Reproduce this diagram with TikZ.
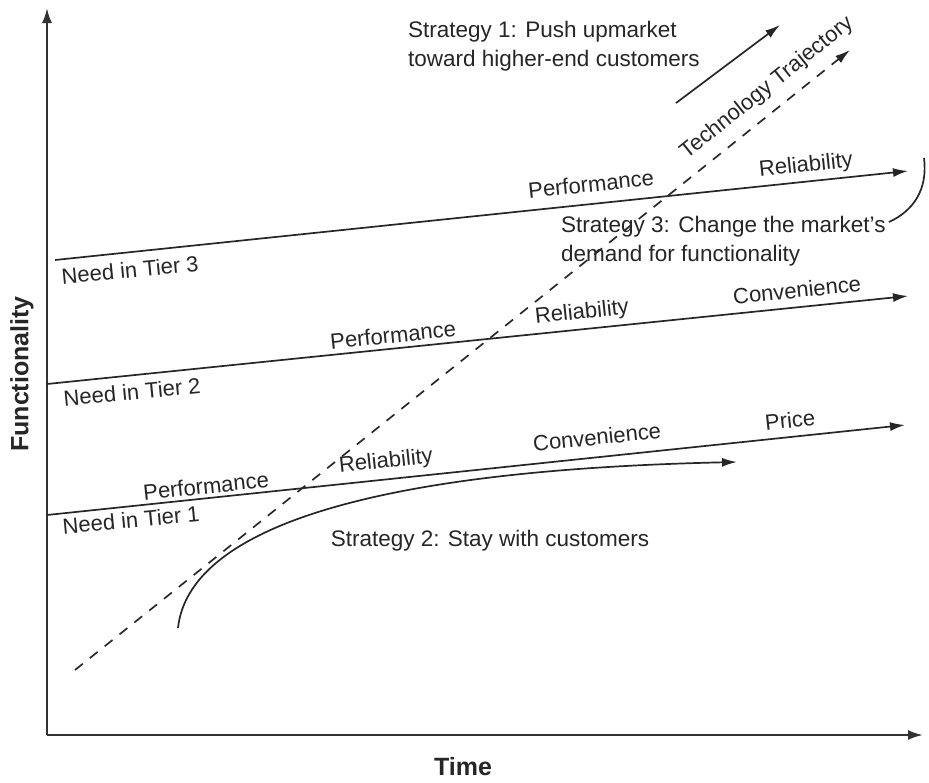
\documentclass[tikz,border=0pt]{standalone}
\usepackage{fontspec}
\setmainfont{Liberation Sans}
\usetikzlibrary{arrows.meta}
\begin{document}
\begin{tikzpicture}[x=1pt,y=-1pt,
  lbl/.style={inner sep=0pt,font=\fontsize{22}{28}\selectfont,text=black!85},
  slbl/.style={inner sep=0pt,font=\fontsize{22.5}{28.5}\selectfont,text=black!85},
  axlbl/.style={inner sep=0pt,font=\fontsize{25}{30}\selectfont\bfseries,text=black!85},
  tierline/.style={line width=1.7pt,draw=black!85,-{Latex[length=15pt,width=9pt]}},
  axis/.style={line width=2.2pt,draw=black!80,-{Latex[length=15pt,width=10pt]}},
  plain/.style={line width=1.7pt,draw=black!85},
  traj/.style={line width=1.7pt,draw=black!85,dash pattern=on 10pt off 9pt,-{Latex[length=15pt,width=9pt]}}]
\useasboundingbox (0,0) rectangle (929,782);
% axes
\coordinate (o) at (47,735);
\coordinate (ytop) at (47,8);
\coordinate (xend) at (923,735);
\draw[axis] (o) -- (ytop);
\draw[axis] (o) -- (xend);
\node[axlbl,rotate=90] (fl) at (22,374) {Functionality};
\node[axlbl] (tl) at (463,767) {Time};
% tier lines
\coordinate (t3s) at (55,260);
\coordinate (t3e) at (908,171);
\coordinate (t2s) at (47,384);
\coordinate (t2e) at (908,296);
\coordinate (t1s) at (47,515);
\coordinate (t1e) at (905,425);
\draw[tierline] (t3s) -- (t3e);
\draw[tierline] (t2s) -- (t2e);
\draw[tierline] (t1s) -- (t1e);
% tier labels
\node[lbl,rotate=5.5] (n3) at (130,270) {Need in Tier 3};
\node[lbl,rotate=5.5] (n2) at (132,392) {Need in Tier 2};
\node[lbl,rotate=5.5] (n1) at (131,520) {Need in Tier 1};
\node[lbl,rotate=6] (p3) at (591,184) {Performance};
\node[lbl,rotate=6] (r3) at (806,166) {Reliability};
\node[lbl,rotate=6] (p2) at (393,335) {Performance};
\node[lbl,rotate=6] (r2) at (582,313) {Reliability};
\node[lbl,rotate=6] (c2) at (797,290) {Convenience};
\node[lbl,rotate=6] (p1) at (206,486) {Performance};
\node[lbl,rotate=6] (r1) at (386,462) {Reliability};
\node[lbl,rotate=6] (c1) at (597,437) {Convenience};
\node[lbl,rotate=6] (pr1) at (790,420) {Price};
% technology trajectory
\coordinate (ts) at (75,670);
\coordinate (te) at (850,50);
\draw[traj] (ts) -- (te);
\node[lbl,rotate=38.7] (tt) at (767,88) {Technology Trajectory};
% strategy 1
\coordinate (s1s) at (676,103);
\coordinate (s1e) at (780,25);
\draw[tierline] (s1s) -- (s1e);
\node[slbl,align=left,anchor=west] (s1) at (408,46) {Strategy 1: Push upmarket\\toward higher-end customers};
% strategy 2
\coordinate (s2s) at (178,628);
\coordinate (s2e) at (737,462);
\draw[tierline] (s2s) .. controls (186,555) and (290,472) .. (s2e);
\node[slbl] (s2) at (490,541) {Strategy 2: Stay with customers};
% strategy 3
\node[slbl,align=left,anchor=west] (s3) at (561,241) {Strategy 3: Change the market's\\demand for functionality};
\coordinate (s3a) at (889,222);
\coordinate (s3b) at (924,158);
\draw[plain] (s3a) .. controls (913,211) and (928,190) .. (s3b);
\end{tikzpicture}
\end{document}
